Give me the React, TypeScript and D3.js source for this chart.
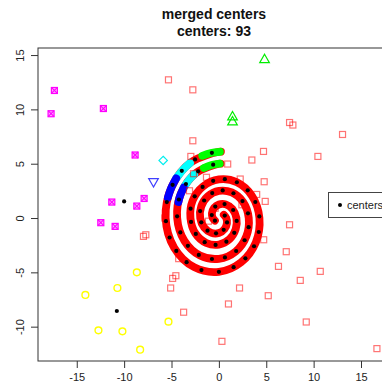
import { useEffect, useRef } from 'react';
import * as d3 from 'd3';

const W = 382;
const H = 392;

const titleLines = ['merged centers', 'centers: 93'];
const xTicks = [-15, -10, -5, 0, 5, 10, 15];
const yTicks = [-10, -5, 0, 5, 10, 15];

// spiral arms, read as [angle in degrees, radius] around the origin
const armA: [number, number][] = [
  [88, 6.11], [90, 6.1], [120, 5.92], [150, 5.75], [180, 5.62], [210, 5.45], [240, 5.22], [270, 4.95],
  [300, 4.7], [330, 4.5], [360, 4.28], [390, 4.05], [420, 3.8], [450, 3.55], [480, 3.35], [510, 3.2],
  [540, 3.0], [570, 2.85], [600, 2.65], [630, 2.45], [660, 2.25], [690, 2.05], [720, 1.85], [750, 1.65],
  [780, 1.45], [810, 1.25], [840, 1.05], [870, 0.85], [900, 0.65], [930, 0.48],
];
const armB: [number, number][] = [
  [88, 5.01], [90, 5.0], [120, 4.8], [150, 4.6], [180, 4.4], [210, 4.2], [240, 3.98], [270, 3.75],
  [300, 3.55], [330, 3.35], [360, 3.15], [390, 2.95], [420, 2.72], [450, 2.5], [480, 2.32], [510, 2.15],
  [540, 1.97], [570, 1.78], [600, 1.58], [630, 1.38], [660, 1.18], [690, 0.98], [720, 0.78], [750, 0.6],
];
const greenA: [number, number][] = [[89, 6.1], [98, 6.05], [107, 5.99]];
const cyanA: [number, number][] = [[121, 5.91], [130, 5.85], [141, 5.8]];
const blueA: [number, number][] = [[141, 5.8], [152, 5.74], [161, 5.7]];
const greenB: [number, number][] = [[89, 5.0], [99, 4.94], [109, 4.87]];
const cyanB: [number, number][] = [[123, 4.79], [132, 4.72], [143, 4.65]];
const blueB: [number, number][] = [[143, 4.65], [153, 4.58], [161, 4.52]];

// centres lying on the spiral, [angle, radius]
const centersA: [number, number][] = [
  [97, 6.05], [115, 5.95], [132, 5.85], [148, 5.76], [165, 5.69], [183, 5.6], [199, 5.5], [214, 5.42],
  [230, 5.3], [249, 5.13], [270, 4.95], [289, 4.78], [307, 4.65], [325, 4.53], [343, 4.4], [362, 4.27],
  [381, 4.12], [400, 3.97], [420, 3.8], [440, 3.63], [460, 3.48], [481, 3.34], [502, 3.24], [524, 3.11],
  [547, 2.96], [571, 2.84], [596, 2.68], [622, 2.5], [650, 2.32], [680, 2.12], [712, 1.9], [746, 1.68],
  [785, 1.42], [830, 1.12], [880, 0.8], [930, 0.48],
];
const centersB: [number, number][] = [
  [97, 4.95], [117, 4.82], [138, 4.68], [158, 4.55], [178, 4.41], [198, 4.28], [218, 4.15], [238, 4.0],
  [259, 3.84], [280, 3.68], [301, 3.54], [323, 3.4], [345, 3.25], [368, 3.1], [392, 2.94], [416, 2.75],
  [441, 2.57], [467, 2.4], [494, 2.24], [522, 2.08], [552, 1.9], [584, 1.67], [618, 1.44], [655, 1.2],
  [695, 0.95], [740, 0.66],
];
// centres away from the spiral, x/y
const centersFree: [number, number][] = [[-10.0, 1.53], [-10.77, -8.56]];

const redSquares: [number, number][] = [
  [-5.32, 12.72], [-2.75, 11.8], [7.46, 8.79], [7.81, 8.56], [13.05, 7.69], [-2.75, 7.11], [4.71, 6.13],
  [-2.96, 5.67], [3.48, 5.34], [10.45, 5.67], [0.93, 4.97], [-2.68, 4.08], [-1.31, 3.75], [2.25, 3.59],
  [4.78, 3.34], [-3.1, 2.51], [3.99, 2.17], [4.89, 1.53], [2.43, 1.22], [-0.39, 0.9], [-1.1, -0.29],
  [-5.7, 0.0], [7.46, -0.62], [4.73, -2.0], [-7.96, -1.69], [-7.71, -1.54], [-4.24, -3.74], [7.11, -3.1],
  [6.29, -4.45], [-4.54, -5.31], [-4.88, -5.56], [10.7, -4.91], [8.59, -5.74], [-5.09, -6.44], [2.18, -6.44],
  [5.21, -7.15], [1.01, -7.91], [-3.72, -8.67], [9.22, -9.57], [0.32, -11.35], [16.68, -12.02],
];
const magentaBoxes: [number, number][] = [
  [-17.36, 11.74], [-17.71, 9.6], [-12.19, 10.08], [-8.84, 5.8], [-11.3, 1.47], [-7.89, 1.8],
  [-8.66, 1.1], [-12.46, -0.43], [-10.95, -0.77],
];
const yellowCircles: [number, number][] = [
  [-14.09, -7.08], [-10.71, -6.44], [-8.66, -5.0], [-12.71, -10.34], [-10.18, -10.43], [-8.31, -12.12],
  [-5.32, -9.54],
];
const greenTriangles: [number, number][] = [[4.82, 14.56], [1.44, 9.29], [1.44, 8.83]];
const cyanDiamonds: [number, number][] = [[-5.88, 5.3]];
const blueTriangles: [number, number][] = [[-6.9, 3.37]];

const FONT = '"Liberation Sans", Arial, Helvetica, sans-serif';

const polar = ([deg, r]: [number, number]): [number, number] => [
  r * Math.cos((deg * Math.PI) / 180),
  r * Math.sin((deg * Math.PI) / 180),
];

export default function App() {
  const svgRef = useRef<SVGSVGElement>(null);

  useEffect(() => {
    if (!svgRef.current) return;
    const svg = d3.select(svgRef.current);
    svg.selectAll('*').remove();

    const left = 38, right = 390, top = 48, bottom = 361;
    const x = d3.scaleLinear().domain([-19.09, 18.06]).range([left, right]);
    const y = d3.scaleLinear().domain([-13.16, 15.65]).range([bottom, top]);

    svg.append('defs').append('clipPath').attr('id', 'plot-clip')
      .append('rect').attr('x', left).attr('y', top).attr('width', right - left).attr('height', bottom - top);

    const g = svg.append('g').attr('clip-path', 'url(#plot-clip)');

    const line = d3.line<[number, number]>()
      .x((p) => x(polar(p)[0]))
      .y((p) => y(polar(p)[1]))
      .curve(d3.curveCatmullRom);

    const band = 7.8;
    // the spiral band
    [armA, armB].forEach((arm) => {
      g.append('path')
        .attr('d', line(arm))
        .attr('fill', 'none')
        .attr('stroke', '#ff0000')
        .attr('stroke-width', band)
        .attr('stroke-linecap', 'round')
        .attr('stroke-linejoin', 'round');
    });
    const segs: [[number, number][], string][] = [
      [greenA, '#00ff00'], [cyanA, '#00ffff'], [blueA, '#0000ff'],
      [greenB, '#00ff00'], [cyanB, '#00ffff'], [blueB, '#0000ff'],
    ];
    segs.forEach(([pts, c]) => {
      g.append('path')
        .attr('d', line(pts))
        .attr('fill', 'none')
        .attr('stroke', c)
        .attr('stroke-width', band)
        .attr('stroke-linecap', 'round');
    });

    // scattered points
    const s = 3;
    g.selectAll('rect.red').data(redSquares).join('rect')
      .attr('x', (d) => x(d[0]) - s).attr('y', (d) => y(d[1]) - s)
      .attr('width', 2 * s).attr('height', 2 * s)
      .attr('fill', 'none').attr('stroke', 'rgba(255,0,0,0.55)').attr('stroke-width', 1.2);

    const mg = g.selectAll('g.mag').data(magentaBoxes).join('g')
      .attr('transform', (d) => `translate(${x(d[0])},${y(d[1])})`);
    mg.append('rect').attr('x', -s).attr('y', -s).attr('width', 2 * s).attr('height', 2 * s)
      .attr('fill', 'rgba(255,0,255,0.35)').attr('stroke', '#ff00ff').attr('stroke-width', 1.2);
    mg.append('path').attr('d', `M${-s},${-s}L${s},${s}M${-s},${s}L${s},${-s}`)
      .attr('stroke', '#ff00ff').attr('stroke-width', 1.1);

    g.selectAll('circle.yel').data(yellowCircles).join('circle')
      .attr('cx', (d) => x(d[0])).attr('cy', (d) => y(d[1])).attr('r', 3.4)
      .attr('fill', 'none').attr('stroke', '#ffff00').attr('stroke-width', 1.4);

    const tri = d3.symbol(d3.symbolTriangle, 40);
    g.selectAll('path.gtri').data(greenTriangles).join('path')
      .attr('d', tri())
      .attr('transform', (d) => `translate(${x(d[0])},${y(d[1])})`)
      .attr('fill', 'none').attr('stroke', '#00ee00').attr('stroke-width', 1.2);
    g.selectAll('path.btri').data(blueTriangles).join('path')
      .attr('d', tri())
      .attr('transform', (d) => `translate(${x(d[0])},${y(d[1])}) rotate(180)`)
      .attr('fill', 'none').attr('stroke', '#4040ff').attr('stroke-width', 1.2);
    g.selectAll('path.cdia').data(cyanDiamonds).join('path')
      .attr('d', 'M0,-4.2L4.2,0L0,4.2L-4.2,0Z')
      .attr('transform', (d) => `translate(${x(d[0])},${y(d[1])})`)
      .attr('fill', 'none').attr('stroke', '#00eeee').attr('stroke-width', 1.2);

    // centres
    const centres = [...centersA.map(polar), ...centersB.map(polar), ...centersFree];
    g.selectAll('circle.ctr').data(centres).join('circle')
      .attr('cx', (d) => x(d[0])).attr('cy', (d) => y(d[1])).attr('r', 2.1)
      .attr('fill', '#000');

    // box
    svg.append('rect')
      .attr('x', left).attr('y', top).attr('width', right - left).attr('height', bottom - top)
      .attr('fill', 'none').attr('stroke', '#333').attr('stroke-width', 1);

    // axes
    const xAxis = svg.append('g').attr('transform', `translate(0,${bottom})`)
      .call(d3.axisBottom(x).tickValues(xTicks).tickSize(7).tickPadding(5).tickFormat((d) => String(d)));
    xAxis.select('.domain').remove();
    xAxis.selectAll('line').attr('stroke', '#333');
    xAxis.selectAll('text').attr('font-family', FONT).attr('font-size', 11).attr('fill', '#222');

    const yAxis = svg.append('g').attr('transform', `translate(${left},0)`)
      .call(d3.axisLeft(y).tickValues(yTicks).tickSize(7).tickFormat((d) => String(d)));
    yAxis.select('.domain').remove();
    yAxis.selectAll('line').attr('stroke', '#333');
    yAxis.selectAll('text')
      .attr('font-family', FONT).attr('font-size', 11).attr('fill', '#222')
      .attr('x', null).attr('dy', null)
      .attr('text-anchor', 'middle')
      .attr('transform', 'translate(-14,0) rotate(-90)');

    // titles
    svg.selectAll('text.title').data(titleLines).join('text')
      .attr('x', (left + right) / 2)
      .attr('y', (_, i) => 19 + i * 16.5)
      .attr('text-anchor', 'middle')
      .attr('font-family', FONT).attr('font-weight', 'bold').attr('font-size', 14)
      .attr('fill', '#111')
      .text((d) => d);

    // legend
    const lg = svg.append('g');
    lg.append('rect').attr('x', 328.5).attr('y', 192.5).attr('width', 58).attr('height', 25)
      .attr('fill', '#fff').attr('stroke', '#444').attr('stroke-width', 1);
    lg.append('circle').attr('cx', 340).attr('cy', 205).attr('r', 2).attr('fill', '#000');
    lg.append('text').attr('x', 347).attr('y', 209).attr('font-family', FONT).attr('font-size', 11)
      .attr('fill', '#222').text('centers');
  }, []);

  return (
    <svg
      ref={svgRef}
      width={W}
      height={H}
      style={{ position: 'absolute', left: 0, top: 0, background: '#fff' }}
    />
  );
}
